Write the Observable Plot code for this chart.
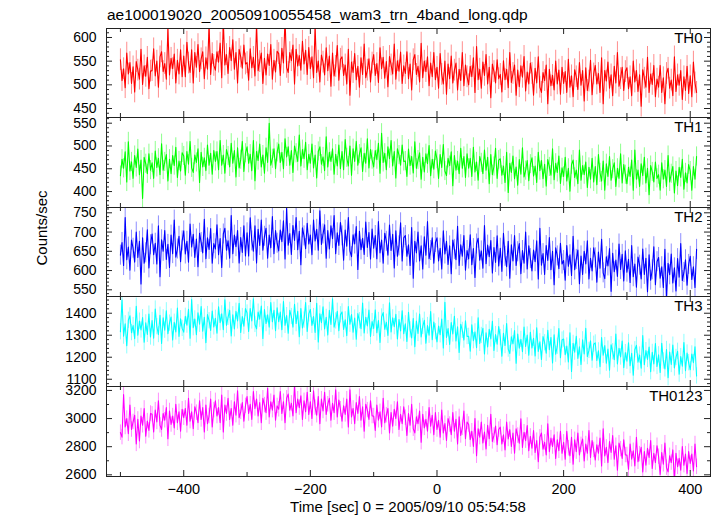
<!DOCTYPE html>
<html><head><meta charset="utf-8">
<script src="https://cdn.jsdelivr.net/npm/d3@7"></script>
<script src="https://cdn.jsdelivr.net/npm/@observablehq/plot@0.6"></script>
<style>
html,body{margin:0;padding:0;background:#fff;}
#root{position:relative;width:717px;height:516px;font-family:"Liberation Sans",Arial,sans-serif;color:#000;overflow:hidden;}
#root svg{position:absolute;left:0;background:transparent;overflow:visible;}
.lbl{position:absolute;white-space:nowrap;font-size:15px;line-height:15px;}
</style></head><body><div id="root"></div>
<script>
const title = "ae100019020_20050910055458_wam3_trn_4band_long.qdp";
const xLabel = "Time [sec] 0 = 2005/09/10 05:54:58";
const yLabel = "Counts/sec";
const bands = ["TH0", "TH1", "TH2", "TH3", "TH0123"];
const colors = ["#ff0000", "#00ff00", "#0000ff", "#00ffff", "#ff00ff"];
const tStart = -500, tStep = 2.5;
// typical 1-sigma error bar of each band (counts/sec)
const errBars = [23, 21, 26, 37, 55];

const th0 = [
553,509,534,494,567,523,547,503,538,485,549,531,512,575,501,540,518,558,492,529,
530,576,519,550,495,559,570,528,545,512,618,521,556,534,565,504,552,523,574,517,
561,517,590,546,526,574,504,568,537,585,528,555,570,513,557,533,625,522,566,541,
531,570,548,588,515,635,542,564,524,579,551,595,533,568,504,575,559,535,584,544,
547,510,576,536,558,519,628,530,549,567,503,556,521,565,541,585,512,552,527,571,
566,520,577,546,640,537,526,568,551,584,502,575,540,562,531,592,544,573,522,579,
534,559,515,622,526,550,506,563,548,521,578,530,561,497,567,519,539,583,510,554,
559,520,542,502,575,478,548,526,566,511,539,495,557,522,586,515,531,555,506,546,
564,520,545,505,578,534,558,514,549,496,560,542,523,586,512,551,529,569,503,540,
524,570,513,544,489,553,564,522,539,506,588,515,550,528,559,498,546,517,568,511,
537,493,566,522,502,550,480,544,513,561,504,531,546,489,533,509,568,498,542,517,
500,539,517,557,484,581,511,533,493,548,520,564,502,537,473,544,528,504,553,513,
522,485,551,511,533,494,568,505,524,542,478,531,496,540,516,560,487,527,502,546,
524,478,535,504,559,495,484,526,509,542,460,533,498,520,489,550,502,531,480,537,
503,528,484,554,495,519,475,532,517,490,547,499,530,466,536,488,508,552,479,523,
541,502,524,484,557,460,530,508,548,493,521,477,539,504,568,497,513,537,488,528,
536,492,517,477,550,506,530,486,521,455,532,514,495,558,484,523,501,541,475,512,
495,541,484,515,460,524,535,493,510,477,559,486,521,499,530,469,517,488,539,482,
519,475,548,504,484];
const th1 = [
435,471,451,487,421,509,445,465,429,479,453,493,437,469,385,475,461,439,483,447,
463,429,489,453,473,437,505,447,465,481,423,471,439,479,457,497,431,467,445,485,
478,436,488,460,510,452,442,480,464,494,420,486,454,474,446,502,458,484,438,490,
466,488,448,512,458,480,440,492,478,454,506,462,490,432,496,452,470,510,444,484,
498,462,482,446,512,424,488,468,504,454,480,440,496,464,550,458,472,494,450,486,
504,464,486,450,516,476,498,458,490,442,500,484,466,524,456,492,472,508,448,482,
462,504,452,480,430,488,498,460,476,446,520,454,486,466,494,438,482,456,502,450,
488,448,514,474,456,500,436,494,466,510,458,482,496,444,484,462,516,452,492,470,
454,490,470,506,440,528,464,484,448,498,472,512,456,488,430,494,480,458,502,466,
467,433,493,457,477,441,509,451,469,485,427,475,443,483,461,501,435,471,449,489,
471,429,481,453,503,445,435,473,457,487,413,479,447,467,439,495,451,477,431,483,
451,473,433,497,443,465,425,477,463,439,491,447,475,417,481,437,455,495,429,469,
472,436,456,420,486,398,462,442,478,428,454,414,470,438,496,432,446,468,424,460,
474,434,456,420,486,446,468,428,460,412,470,454,436,494,426,462,442,478,418,452,
433,475,423,451,401,459,469,431,447,417,491,425,457,437,465,409,453,427,473,421,
455,415,481,441,423,467,403,461,433,477,425,449,463,411,451,429,483,419,459,437,
417,453,433,469,403,491,427,447,411,461,435,475,419,451,393,457,443,421,465,429,
437,403,463,427,447,411,479,421,439,455,397,445,413,453,431,471,405,441,419,459,
445,403,455,427,477];
const th2 = [
640,673,613,738,628,661,601,679,658,622,700,634,676,565,685,619,646,706,607,667,
695,641,671,617,716,584,680,650,704,629,668,608,692,644,731,635,656,689,623,677,
703,643,676,622,721,661,694,634,682,610,697,673,646,733,631,685,655,709,619,670,
656,719,641,683,608,695,710,653,677,632,743,644,692,662,704,620,686,647,716,638,
698,638,737,677,650,716,620,707,665,731,653,689,710,632,692,659,740,644,704,671,
651,705,675,729,630,762,666,696,642,717,678,738,654,702,615,711,690,657,723,669,
692,641,731,677,707,653,755,668,695,719,632,704,656,716,683,743,644,698,665,725,
690,627,705,663,738,651,636,693,669,714,603,702,654,684,642,726,660,699,630,708,
658,691,631,727,646,679,619,697,676,640,718,652,694,607,703,637,664,724,625,685,
691,637,667,613,712,580,676,646,700,625,664,604,688,640,727,631,652,685,619,673,
685,625,658,604,703,643,676,616,664,592,679,655,628,715,613,667,637,691,601,652,
630,693,615,657,582,669,684,627,651,606,717,618,666,636,678,594,660,621,690,612,
658,598,697,637,610,676,580,667,625,691,613,649,670,592,652,619,700,604,664,631,
599,653,623,677,578,710,614,644,590,665,626,686,602,650,563,659,638,605,671,617,
626,575,665,611,641,587,689,602,629,653,566,638,590,650,617,677,578,632,599,659,
633,570,648,606,681,594,579,636,612,657,546,645,597,627,585,669,603,642,573,651,
596,629,569,665,584,617,557,635,614,578,656,590,632,545,641,575,602,662,563,623,
634,580,610,556,655,523,619,589,643,568,607,547,631,583,670,574,595,628,562,616,
637,577,610,556,655];
const th3 = [
1316,1460,1296,1352,1252,1368,1388,1312,1344,1284,1432,1300,1364,1324,1380,1268,1356,1304,1396,1292,
1367,1287,1419,1339,1303,1391,1263,1379,1323,1411,1307,1355,1383,1279,1359,1315,1423,1295,1375,1331,
1314,1386,1346,1418,1286,1462,1334,1374,1302,1402,1350,1430,1318,1382,1266,1394,1366,1322,1410,1338,
1377,1309,1429,1357,1397,1325,1461,1345,1381,1413,1297,1393,1329,1409,1365,1445,1313,1385,1341,1421,
1401,1317,1421,1365,1465,1349,1329,1405,1373,1433,1285,1417,1353,1393,1337,1449,1361,1413,1321,1425,
1361,1405,1325,1453,1345,1389,1309,1413,1385,1337,1441,1353,1409,1293,1421,1333,1369,1449,1317,1397,
1417,1345,1385,1313,1445,1269,1397,1357,1429,1329,1381,1301,1413,1349,1465,1337,1365,1409,1321,1393,
1406,1326,1370,1298,1430,1350,1394,1314,1378,1282,1398,1366,1330,1446,1310,1382,1342,1414,1294,1362,
1331,1415,1311,1367,1267,1383,1403,1327,1359,1299,1447,1315,1379,1339,1395,1283,1371,1319,1411,1307,
1352,1272,1404,1324,1288,1376,1248,1364,1308,1396,1292,1340,1368,1264,1344,1300,1408,1280,1360,1316,
1270,1342,1302,1374,1242,1450,1290,1330,1258,1358,1306,1386,1274,1338,1222,1350,1322,1278,1366,1294,
1295,1227,1347,1275,1315,1243,1379,1263,1299,1331,1215,1311,1247,1327,1283,1363,1231,1303,1259,1339,
1289,1205,1309,1253,1353,1237,1217,1293,1261,1321,1173,1305,1241,1281,1225,1337,1249,1301,1209,1313,
1242,1286,1206,1334,1226,1270,1190,1294,1266,1218,1322,1234,1290,1174,1302,1214,1250,1330,1198,1278,
1283,1211,1251,1179,1311,1135,1263,1223,1295,1195,1247,1167,1279,1215,1331,1203,1231,1275,1187,1259,
1265,1185,1229,1157,1289,1209,1253,1173,1237,1141,1257,1225,1189,1305,1169,1241,1201,1273,1153,1221,
1182,1266,1162,1218,1118,1234,1254,1178,1210,1150,1298,1166,1230,1190,1246,1134,1222,1170,1262,1158,
1211,1131,1263,1183,1147,1235,1107,1223,1167,1255,1151,1199,1227,1123,1203,1159,1267,1139,1219,1175,
1143,1215,1175,1247,1115];
const th0123 = [
2900,2868,3170,2940,3000,2892,3096,2922,2976,3024,2820,2994,2840,3018,2952,3072,2874,2982,2916,3036,
3030,2904,3060,2976,3126,2952,2922,3036,2988,3078,2856,3054,2958,3018,2934,3102,2970,3048,2910,3066,
3006,3072,2952,3144,2982,3048,2928,3084,3042,2970,3126,2994,3078,2904,3096,2964,3018,3138,2940,3060,
3126,3018,3078,2970,3168,2904,3096,3036,3144,2994,3072,2952,3120,3024,3198,3006,3048,3114,2982,3090,
3156,3036,3102,2994,3192,3072,3138,3018,3114,2970,3144,3096,3042,3216,3012,3120,3060,3168,2988,3090,
3066,3192,3036,3120,2970,3144,3174,3060,3108,3018,3240,3042,3138,3078,3162,2994,3126,3048,3186,3030,
3120,3000,3198,3078,3024,3156,2964,3138,3054,3186,3030,3102,3144,2988,3108,3042,3204,3012,3132,3066,
2982,3090,3030,3138,2940,3204,3012,3072,2964,3114,3036,3156,2988,3084,2910,3102,3060,2994,3126,3018,
3018,2916,3096,2988,3048,2940,3144,2970,3024,3072,2898,3042,2946,3066,3000,3120,2922,3030,2964,3084,
3006,2880,3036,2952,3102,2928,2898,3012,2964,3054,2832,3030,2934,2994,2910,3078,2946,3024,2886,3042,
2922,2988,2868,3060,2898,2964,2844,3000,2958,2886,3042,2910,2994,2820,3012,2880,2934,3054,2856,2976,
2958,2850,2910,2802,3000,2736,2928,2868,2976,2826,2904,2784,2952,2856,3030,2838,2880,2946,2814,2922,
2939,2819,2885,2777,2975,2855,2921,2801,2897,2753,2927,2879,2825,2999,2795,2903,2843,2951,2771,2873,
2789,2915,2759,2843,2693,2867,2897,2783,2831,2741,2963,2765,2861,2801,2885,2717,2849,2771,2909,2753,
2831,2711,2909,2789,2735,2867,2675,2849,2765,2897,2741,2813,2855,2699,2819,2753,2915,2723,2843,2777,
2705,2813,2753,2861,2663,2927,2735,2795,2687,2837,2759,2879,2711,2807,2633,2825,2783,2717,2849,2741,
2741,2639,2819,2711,2771,2663,2867,2693,2747,2795,2621,2765,2669,2789,2723,2843,2645,2753,2687,2807,
2729,2603,2759,2675,2825,2651,2621,2735,2687,2777,2555,2753,2657,2717,2633,2801,2669,2747,2609,2765,
2681,2747,2627,2819,2657];

const xDomain = [-522, 432];
const xMajor = [-400, -200, 0, 200, 400];
const xMinor = [-500, -300, -100, 100, 300];
const yDomains = [[431, 619], [365, 562.5], [532.6, 763.8], [1067, 1476], [2588, 3228]];
const yMajor = [[450, 500, 550, 600], [400, 450, 500, 550], [550, 600, 650, 700, 750], [1100, 1200, 1300, 1400], [2600, 2800, 3000, 3200]];
const yMinorStep = [10, 10, 10, 20, 100];

const series = [th0, th1, th2, th3, th0123];
const tops = [28, 117, 207, 296, 386, 476];
const W = 717, ML = 106, MR = 7, FW = W - ML - MR;
const root = document.getElementById("root");
const frameColor = "#222";
const fmt = d => (d < 0 ? "\u2212" + (-d) : String(d));

series.forEach((vals, i) => {
  const last = i === series.length - 1;
  const mt = 6, mb = last ? 40 : 6;
  const h = tops[i + 1] - tops[i];
  const e = errBars[i];
  const data = vals.map((v, k) => ({t: tStart + k * tStep, v, lo: v - e, hi: v + e}));
  const [lo, hi] = yDomains[i];
  const step = yMinorStep[i];
  const yMinor = d3.range(Math.ceil(lo / step) * step, hi, step).filter(v => !yMajor[i].includes(v));
  const marks = [
    Plot.ruleX(data, {x: "t", y1: "lo", y2: "hi", stroke: colors[i], strokeWidth: 1, strokeOpacity: 0.45, clip: true}),
    Plot.lineY(data, {x: "t", y: "v", stroke: colors[i], strokeWidth: 1.1, clip: true}),
    Plot.tickX(xMajor, {x: d => d, stroke: frameColor, insetTop: h - 6}),
    Plot.tickX(xMinor, {x: d => d, stroke: frameColor, insetTop: h - 4}),
    Plot.tickX(xMajor, {x: d => d, stroke: frameColor, insetBottom: h - 6}),
    Plot.tickX(xMinor, {x: d => d, stroke: frameColor, insetBottom: h - 4}),
    Plot.tickY(yMajor[i], {y: d => d, stroke: frameColor, insetRight: FW - 6}),
    Plot.tickY(yMinor, {y: d => d, stroke: frameColor, insetRight: FW - 3}),
    Plot.tickY(yMajor[i], {y: d => d, stroke: frameColor, insetLeft: FW - 6}),
    Plot.tickY(yMinor, {y: d => d, stroke: frameColor, insetLeft: FW - 3}),
    Plot.frame({stroke: frameColor}),
    Plot.axisY({anchor: "left", ticks: yMajor[i], tickSize: 0, tickPadding: 10, tickFormat: fmt, label: null, fill: "#000", fontSize: 14}),
    Plot.text([bands[i]], {frameAnchor: "top-right", dx: -8, dy: 4, textAnchor: "end", lineAnchor: "top", fill: "#000", fontSize: 15})
  ];
  if (last) {
    marks.push(Plot.axisX({anchor: "bottom", ticks: xMajor, tickSize: 0, tickPadding: 7, tickFormat: fmt, label: null, fill: "#000", fontSize: 14.5}));
  } else {
    marks.push(Plot.axisX({anchor: "bottom", ticks: [], label: null}));
  }
  const svg = Plot.plot({
    width: W, height: h + mt + mb,
    marginLeft: ML, marginRight: MR, marginTop: mt, marginBottom: mb,
    x: {domain: xDomain},
    y: {domain: yDomains[i]},
    style: {fontFamily: "Liberation Sans, Arial, sans-serif", fontSize: "15px", background: "transparent", color: "#000", overflow: "visible"},
    marks
  });
  svg.style.top = (tops[i] - mt) + "px";
  root.appendChild(svg);
});

function label(text, css) {
  const d = document.createElement("div");
  d.className = "lbl";
  d.textContent = text;
  Object.assign(d.style, css);
  root.appendChild(d);
  return d;
}
label(title, {left: "107px", top: "7px", fontSize: "15.5px", lineHeight: "15.5px"});
label(xLabel, {left: "408px", top: "499px", transform: "translateX(-50%)"});
label(yLabel, {left: "41px", top: "228px", transform: "translate(-50%,-50%) rotate(-90deg)"});
</script></body></html>
